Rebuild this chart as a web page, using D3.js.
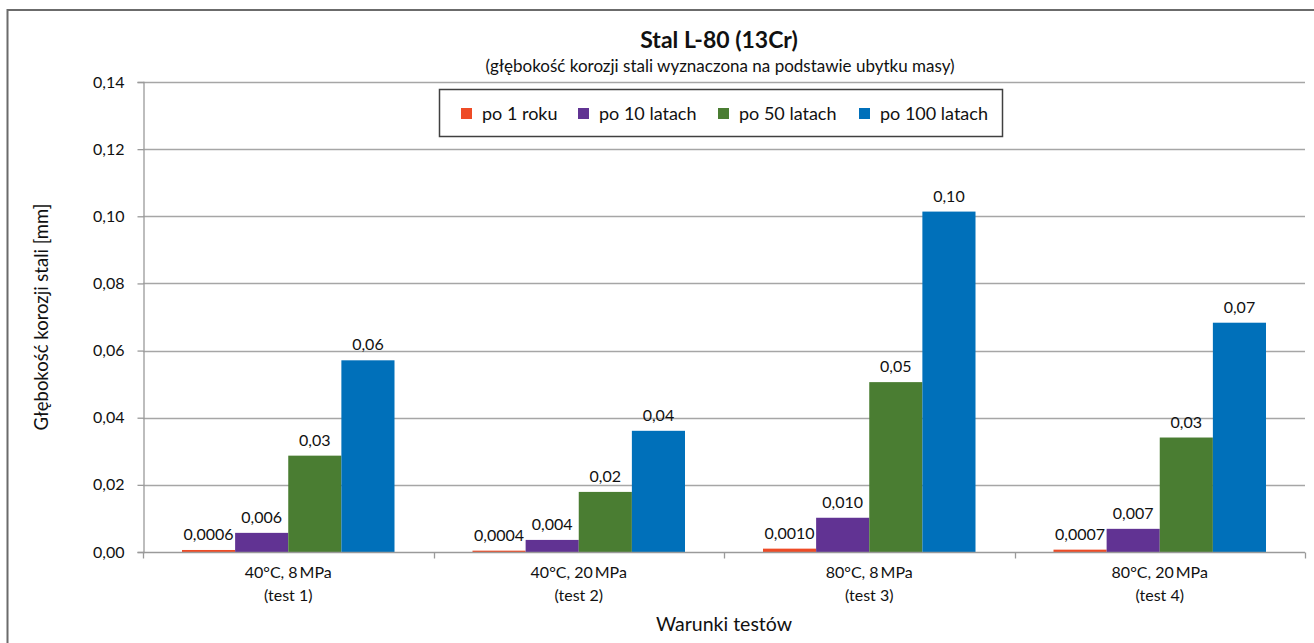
<!DOCTYPE html>
<html>
<head>
<meta charset="utf-8">
<script src="https://cdnjs.cloudflare.com/ajax/libs/d3/7.8.5/d3.min.js"></script>
<style>
  html, body { margin: 0; padding: 0; background: #fff; }
  svg { display: block; font-family: Lato, "Liberation Sans", sans-serif; }
</style>
</head>
<body>
<svg id="chart" width="1314" height="643"></svg>
<script>
// Test conditions (two-line category labels)
const categories = ["test1", "test2", "test3", "test4"];
const categoryLine1 = ["40°C, 8\u2009MPa", "40°C, 20\u2009MPa", "80°C, 8\u2009MPa", "80°C, 20\u2009MPa"];
const categoryLine2 = ["(test 1)", "(test 2)", "(test 3)", "(test 4)"];

// Series: corrosion depth [mm] after the given exposure time
const seriesNames = ["po 1 roku", "po 10 latach", "po 50 latach", "po 100 latach"];
const seriesColors = ["#EE4B26", "#613393", "#4A7D32", "#0070BA"];
const seriesDecimals = [4, 3, 2, 2];

const after1Year    = [0.0006, 0.0004, 0.0010, 0.0007];
const after10Years  = [0.0057, 0.0036, 0.0102, 0.0069];
const after50Years  = [0.0287, 0.0179, 0.0506, 0.0341];
const after100Years = [0.0571, 0.0361, 0.1014, 0.0683];
const seriesValues = [after1Year, after10Years, after50Years, after100Years];

const yTicks = [0, 0.02, 0.04, 0.06, 0.08, 0.10, 0.12, 0.14];

const plLocale = d3.formatLocale({ decimal: ",", thousands: "\u00a0", grouping: [3], currency: ["", " zł"] });

const svg = d3.select("#chart");
const W = 1314, H = 643;
const plot = { left: 143, right: 1305, top: 82, bottom: 552 };
const labelSize = 16;

svg.append("rect").attr("width", W).attr("height", H).attr("fill", "#fff");

// outer chart frame
svg.append("rect")
  .attr("x", 7.5).attr("y", 10)
  .attr("width", W + 20).attr("height", H + 20)
  .attr("fill", "none").attr("stroke", "#6b6b6b").attr("stroke-width", 2);

const x = d3.scaleBand().domain(categories).range([plot.left, plot.right]).paddingInner(0).paddingOuter(0);
const groupPad = 39;
const x1 = d3.scaleBand().domain(seriesNames).range([groupPad, x.bandwidth() - groupPad]);
const y = d3.scaleLinear().domain([0, 0.14]).range([plot.bottom, plot.top]);

// horizontal gridlines
svg.append("g")
  .selectAll("line").data(yTicks.slice(1)).join("line")
  .attr("x1", plot.left).attr("x2", plot.right)
  .attr("y1", d => Math.round(y(d)) + 0.5).attr("y2", d => Math.round(y(d)) + 0.5)
  .attr("stroke", "#a6a6a6").attr("stroke-width", 1.3);

// y axis
const yAxis = d3.axisLeft(y).tickValues(yTicks).tickSize(6).tickPadding(13)
  .tickFormat(plLocale.format(".2f"));
const gy = svg.append("g").attr("transform", `translate(${plot.left + 0.5},0)`).call(yAxis);
gy.select(".domain").attr("stroke", "#9a9a9a").attr("stroke-width", 1.3);
gy.selectAll(".tick line").attr("stroke", "#9a9a9a").attr("stroke-width", 1.3);
gy.selectAll(".tick text").attr("font-size", labelSize).attr("fill", "#111")
  .attr("font-family", "Lato, sans-serif");

// bars
const groups = svg.append("g").selectAll("g").data(categories).join("g")
  .attr("transform", d => `translate(${x(d)},0)`);

groups.each(function (cat, ci) {
  const g = d3.select(this);
  seriesNames.forEach((s, si) => {
    const v = seriesValues[si][ci];
    g.append("rect")
      .attr("x", x1(s)).attr("width", x1.bandwidth())
      .attr("y", y(v)).attr("height", y(0) - y(v))
      .attr("fill", seriesColors[si]);
  });
});

// x axis line and category boundary ticks
const gx = svg.append("g").attr("transform", `translate(0,${plot.bottom + 0.5})`);
gx.append("line").attr("x1", plot.left).attr("x2", plot.right)
  .attr("stroke", "#9a9a9a").attr("stroke-width", 1.3);
const boundaries = categories.map(c => x(c)).concat([x(categories[categories.length - 1]) + x.bandwidth()]);
gx.selectAll("line.tk").data(boundaries).join("line").attr("class", "tk")
  .attr("x1", d => Math.round(d) + 0.5).attr("x2", d => Math.round(d) + 0.5)
  .attr("y1", 0).attr("y2", 6)
  .attr("stroke", "#9a9a9a").attr("stroke-width", 1.3);

// category labels
const catLabels = svg.append("g").attr("font-size", labelSize).attr("fill", "#111").attr("text-anchor", "middle");
categories.forEach((c, i) => {
  const cx = x(c) + x.bandwidth() / 2;
  catLabels.append("text").attr("x", cx).attr("y", 578).text(categoryLine1[i]);
  catLabels.append("text").attr("x", cx).attr("y", 601).text(categoryLine2[i]);
});

// value labels above bars
const valueLabels = svg.append("g").attr("font-size", labelSize).attr("fill", "#111").attr("text-anchor", "middle");
categories.forEach((c, ci) => {
  seriesNames.forEach((s, si) => {
    const v = seriesValues[si][ci];
    valueLabels.append("text")
      .attr("x", x(c) + x1(s) + x1.bandwidth() / 2)
      .attr("y", y(v) - 10)
      .text(plLocale.format(`.${seriesDecimals[si]}f`)(v));
  });
});

// titles
svg.append("text").attr("x", 719).attr("y", 48).attr("text-anchor", "middle")
  .attr("font-size", 23).attr("font-weight", "bold").attr("fill", "#111")
  .text("Stal L-80 (13Cr)");
svg.append("text").attr("x", 720).attr("y", 72).attr("text-anchor", "middle")
  .attr("font-size", 17).attr("fill", "#111")
  .text("(głębokość korozji stali wyznaczona na podstawie ubytku masy)");

svg.append("text").attr("x", (plot.left + plot.right) / 2).attr("y", 631).attr("text-anchor", "middle")
  .attr("font-size", 19.5).attr("fill", "#111").text("Warunki testów");
svg.append("text")
  .attr("transform", `translate(48,${(plot.top + plot.bottom) / 2}) rotate(-90)`)
  .attr("text-anchor", "middle").attr("font-size", 18.5).attr("fill", "#111")
  .text("Głębokość korozji stali [mm]");

// legend
const legend = svg.append("g");
legend.append("rect").attr("x", 439.5).attr("y", 89.5).attr("width", 563).attr("height", 47)
  .attr("fill", "#fff").attr("stroke", "#404040").attr("stroke-width", 1.5);
const legendX = [461, 578, 718, 859];
seriesNames.forEach((s, i) => {
  legend.append("rect").attr("x", legendX[i]).attr("y", 108).attr("width", 11).attr("height", 11)
    .attr("fill", seriesColors[i]);
  legend.append("text").attr("x", legendX[i] + 21).attr("y", 119.5)
    .attr("font-size", 18).attr("fill", "#111").text(s);
});
</script>
</body>
</html>
